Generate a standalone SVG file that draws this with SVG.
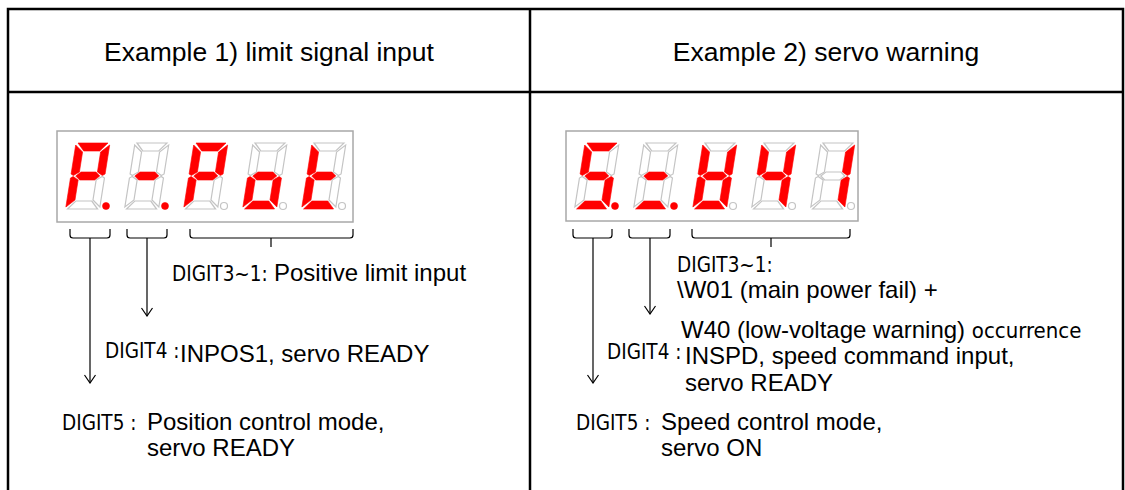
<svg xmlns="http://www.w3.org/2000/svg" xmlns:xlink="http://www.w3.org/1999/xlink" width="1125" height="490" viewBox="0 0 1125 490">
<style>
.tbl{stroke:#000;stroke-width:2.5;fill:none}
.box{fill:#fff;stroke:#a8a8a8;stroke-width:1.5}
.on{fill:#ff0000;stroke:#ff0000;stroke-width:0.6}
.off{fill:#fff;stroke:#c4c4c4;stroke-width:1.2}
.br{fill:none;stroke:#000;stroke-width:1.2}
.hd{font-family:"Liberation Sans",Arial,sans-serif;font-size:26.5px;fill:#000;text-anchor:middle}
.tx{font-family:"Liberation Sans",Arial,sans-serif;font-size:24px;fill:#000}
.dg{font-family:"DejaVu Sans Condensed","DejaVu Sans",sans-serif;font-stretch:condensed;font-size:20.5px;fill:#000}
.oc{font-size:22px}
</style>
<defs>
<polygon id="sa" points="2,0 32,0 25,8 9,8"/>
<polygon id="sb" points="34,2 34,31 31.5,32.5 26,29 26,9"/>
<polygon id="sc" points="34,35 34,64 26,57 26,37 31.5,33.5"/>
<polygon id="sd" points="2,66 32,66 25,58 9,58"/>
<polygon id="se" points="0,35 0,64 8,57 8,37 2.5,33.5"/>
<polygon id="sf" points="0,2 0,31 2.5,32.5 8,29 8,9"/>
<polygon id="sg" points="5,33 9.5,29 24.5,29 29,33 24.5,37 9.5,37"/>
<marker id="arr" viewBox="0 0 10 12" refX="9" refY="6" markerWidth="10" markerHeight="12" markerUnits="userSpaceOnUse" orient="auto">
<path d="M1,0.5 L9,6 L1,11.5" fill="none" stroke="#000" stroke-width="1.2"/>
</marker>
</defs>

<g id="table">
<path class="tbl" d="M8,490 V9 H1123 V490 M530,9 V490 M8,92 H1123"/>
</g>

<g id="header1"><text class="hd" x="269" y="61">Example 1) limit signal input</text></g>
<g id="header2"><text class="hd" x="826" y="61">Example 2) servo warning</text></g>

<g id="display1">
<rect class="box" x="57" y="131" width="296" height="91"/>
<g transform="translate(76,143) skewX(-9)">
<use href="#sa" class="on"/><use href="#sb" class="on"/><use href="#sc" class="off"/><use href="#sd" class="off"/><use href="#se" class="on"/><use href="#sf" class="on"/><use href="#sg" class="on"/>
</g>
<circle cx="106" cy="206" r="3.5" class="on"/>
<g transform="translate(135,143) skewX(-9)">
<use href="#sa" class="off"/><use href="#sb" class="off"/><use href="#sc" class="off"/><use href="#sd" class="off"/><use href="#se" class="off"/><use href="#sf" class="off"/><use href="#sg" class="on"/>
</g>
<circle cx="165" cy="206" r="3.5" class="on"/>
<g transform="translate(194,143) skewX(-9)">
<use href="#sa" class="on"/><use href="#sb" class="on"/><use href="#sc" class="off"/><use href="#sd" class="off"/><use href="#se" class="on"/><use href="#sf" class="on"/><use href="#sg" class="on"/>
</g>
<circle cx="224" cy="206" r="3.5" class="off"/>
<g transform="translate(253,143) skewX(-9)">
<use href="#sa" class="off"/><use href="#sb" class="off"/><use href="#sc" class="on"/><use href="#sd" class="on"/><use href="#se" class="on"/><use href="#sf" class="off"/><use href="#sg" class="on"/>
</g>
<circle cx="283" cy="206" r="3.5" class="off"/>
<g transform="translate(312,143) skewX(-9)">
<use href="#sa" class="off"/><use href="#sb" class="off"/><use href="#sc" class="off"/><use href="#sd" class="on"/><use href="#se" class="on"/><use href="#sf" class="on"/><use href="#sg" class="on"/>
</g>
<circle cx="342" cy="206" r="3.5" class="off"/>
</g>

<g id="display2">
<rect class="box" x="566" y="131" width="292" height="90"/>
<g transform="translate(585,143) skewX(-9)">
<use href="#sa" class="on"/><use href="#sb" class="off"/><use href="#sc" class="on"/><use href="#sd" class="on"/><use href="#se" class="off"/><use href="#sf" class="on"/><use href="#sg" class="on"/>
</g>
<circle cx="615" cy="206" r="3.5" class="on"/>
<g transform="translate(644,143) skewX(-9)">
<use href="#sa" class="off"/><use href="#sb" class="off"/><use href="#sc" class="off"/><use href="#sd" class="on"/><use href="#se" class="off"/><use href="#sf" class="off"/><use href="#sg" class="on"/>
</g>
<circle cx="674" cy="206" r="3.5" class="on"/>
<g transform="translate(703,143) skewX(-9)">
<use href="#sa" class="off"/><use href="#sb" class="on"/><use href="#sc" class="on"/><use href="#sd" class="on"/><use href="#se" class="on"/><use href="#sf" class="on"/><use href="#sg" class="on"/>
</g>
<circle cx="733" cy="206" r="3.5" class="off"/>
<g transform="translate(762,143) skewX(-9)">
<use href="#sa" class="off"/><use href="#sb" class="on"/><use href="#sc" class="on"/><use href="#sd" class="off"/><use href="#se" class="off"/><use href="#sf" class="on"/><use href="#sg" class="on"/>
</g>
<circle cx="792" cy="206" r="3.5" class="off"/>
<g transform="translate(821,143) skewX(-9)">
<use href="#sa" class="off"/><use href="#sb" class="on"/><use href="#sc" class="on"/><use href="#sd" class="off"/><use href="#se" class="off"/><use href="#sf" class="off"/><use href="#sg" class="off"/>
</g>
<circle cx="851" cy="206" r="3.5" class="off"/>
</g>

<g id="connectors">
<path class="br" d="M70,229 V235 Q70,238 73,238 H107 Q110,238 110,235 V229"/>
<line class="br" x1="90" y1="238" x2="90" y2="383" marker-end="url(#arr)"/>
<path class="br" d="M127,229 V235 Q127,238 130,238 H164 Q167,238 167,235 V229"/>
<line class="br" x1="147" y1="238" x2="147" y2="316" marker-end="url(#arr)"/>
<path class="br" d="M190,229 V235 Q190,238 193,238 H350 Q353,238 353,235 V229 M271,238 V247"/>
<path class="br" d="M573,229 V235 Q573,238 576,238 H609 Q612,238 612,235 V229"/>
<line class="br" x1="593" y1="238" x2="593" y2="383" marker-end="url(#arr)"/>
<path class="br" d="M629,229 V235 Q629,238 632,238 H667 Q670,238 670,235 V229"/>
<line class="br" x1="650" y1="238" x2="650" y2="314" marker-end="url(#arr)"/>
<path class="br" d="M692,229 V235 Q692,238 695,238 H847 Q850,238 850,235 V229 M771,238 V247"/>
</g>

<g id="labels1">
<text class="dg" x="172" y="281">DIGIT3~1:</text>
<text class="tx" x="274" y="281">Positive limit input</text>
<text class="dg" x="105" y="358">DIGIT4 :</text>
<text class="tx" x="180" y="362">INPOS1, servo READY</text>
<text class="dg" x="62" y="430">DIGIT5 :</text>
<text class="tx" x="147" y="430">Position control mode,</text>
<text class="tx" x="147" y="456">servo READY</text>
</g>

<g id="labels2">
<text class="dg" x="677" y="272">DIGIT3~1:</text>
<text class="tx" x="677" y="298">\W01 (main power fail) +</text>
<text class="tx" x="681" y="338">W40 (low-voltage warning) <tspan class="dg oc">occurrence</tspan></text>
<text class="dg" x="607" y="359">DIGIT4 :</text>
<text class="tx" x="685" y="364">INSPD, speed command input,</text>
<text class="tx" x="685" y="391">servo READY</text>
<text class="dg" x="576" y="430">DIGIT5 :</text>
<text class="tx" x="661" y="430">Speed control mode,</text>
<text class="tx" x="661" y="456">servo ON</text>
</g>
</svg>
